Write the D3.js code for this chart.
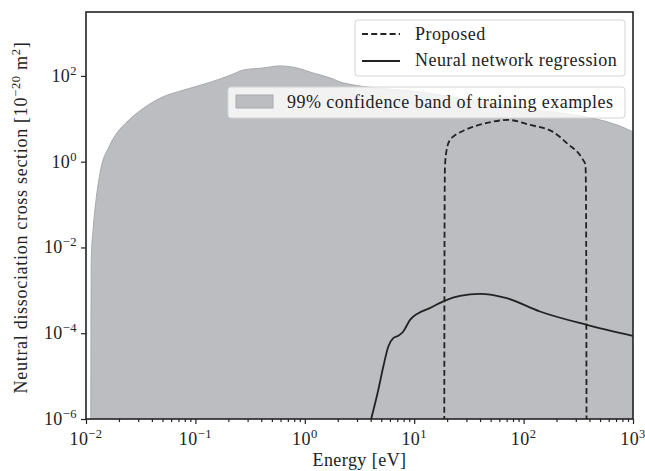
<!DOCTYPE html>
<html>
<head>
<meta charset="utf-8">
<script src="https://cdn.jsdelivr.net/npm/d3@7"></script>
<style>
  body { margin: 0; background: #fff; }
  text { font-family: "Liberation Serif", "DejaVu Serif", serif; fill: #222; }
  .lbl { font-size: 18px; letter-spacing: 0.45px; }
</style>
</head>
<body>
<div id="chart"></div>
<script>
// Data
var bandEnergy = [0.01104, 0.01111, 0.01117, 0.01166, 0.01227, 0.0136, 0.0162, 0.0192, 0.0237, 0.0318, 0.0485, 0.0787, 0.139, 0.211, 0.278, 0.415, 0.593, 0.849, 1.19, 1.70, 2.23, 11.3, 92.7, 714, 1000];
var bandUpper = [1e-7, 1.2e-4, 5.1e-3, 0.030, 0.11, 0.64, 2.2, 4.7, 8.5, 16, 31, 47, 72, 105, 138, 153, 171, 153, 117, 90, 69, 42, 18, 7.2, 4.95];

var proposedEnergy = [18.8, 18.95, 19.1, 19.8, 21.2, 22.6, 27.9, 34.5, 46.2, 71.9, 114, 186, 249, 349, 368, 372, 377];
var proposedValue = [1e-8, 0.05, 0.76, 1.88, 3.2, 3.8, 5.2, 6.5, 8.0, 9.4, 7.2, 4.95, 2.7, 1.1, 0.84, 0.13, 1e-8];

var nnEnergy = [3.95, 4.70, 5.22, 5.80, 6.44, 7.16, 7.95, 9.16, 10.9, 13.9, 19.1, 26.2, 39.9, 70.1, 141, 377, 1000];
var nnValue = [8e-7, 4.8e-6, 1.67e-5, 4.9e-5, 7.7e-5, 8.7e-5, 1.1e-4, 2.05e-4, 2.94e-4, 3.85e-4, 5.78e-4, 7.45e-4, 8.28e-4, 6.58e-4, 3.21e-4, 1.57e-4, 8.7e-5];

var xTickExp = [-2, -1, 0, 1, 2, 3];
var yTickExp = [-6, -4, -2, 0, 2];

var legendLabels = ["Proposed", "Neural network regression"];
var bandLabel = "99% confidence band of training examples";

// Size and margins
var svgWidth = 645;
var svgHeight = 471;
var margin = { top: 12, right: 12, bottom: 52, left: 86 };
var chartWidth = svgWidth - margin.left - margin.right;
var chartHeight = svgHeight - margin.top - margin.bottom;

var svg = d3.select("#chart")
    .append("svg")
    .attr("width", svgWidth)
    .attr("height", svgHeight);

var chartGroup = svg.append("g")
    .attr("transform", `translate(${margin.left}, ${margin.top})`);

// Scales
var xScale = d3.scaleLog().domain([1e-2, 1e3]).range([0, chartWidth]);
var yScale = d3.scaleLog().domain([1e-6, Math.pow(10, 3.49)]).range([chartHeight, 0]);

svg.append("defs").append("clipPath")
    .attr("id", "clip")
    .append("rect")
    .attr("width", chartWidth)
    .attr("height", chartHeight);

var plot = chartGroup.append("g").attr("clip-path", "url(#clip)");

// Confidence band
var bandData = bandEnergy.map((e, i) => ({ e: e, hi: bandUpper[i] }));
var area = d3.area()
    .x(d => xScale(d.e))
    .y0(chartHeight + 5)
    .y1(d => yScale(d.hi))
    .curve(d3.curveMonotoneX);

plot.append("path")
    .datum(bandData)
    .attr("d", area)
    .attr("fill", "#bcbdc1")
    .attr("stroke", "#a8a9ad")
    .attr("stroke-width", 1);

var line = d3.line()
    .x(d => xScale(d.e))
    .y(d => yScale(d.v))
    .curve(d3.curveMonotoneX);

// Proposed (dashed)
plot.append("path")
    .datum(proposedEnergy.map((e, i) => ({ e: e, v: proposedValue[i] })))
    .attr("d", line)
    .attr("fill", "none")
    .attr("stroke", "#222")
    .attr("stroke-width", 1.8)
    .attr("stroke-dasharray", "6,3.2");

// Neural network regression (solid)
plot.append("path")
    .datum(nnEnergy.map((e, i) => ({ e: e, v: nnValue[i] })))
    .attr("d", line)
    .attr("fill", "none")
    .attr("stroke", "#222")
    .attr("stroke-width", 1.8);

// Axes
var xMinor = [];
for (var p = -2; p < 3; p++) {
    for (var k = 2; k <= 9; k++) xMinor.push(k * Math.pow(10, p));
}

var xAxisG = chartGroup.append("g")
    .attr("transform", `translate(0, ${chartHeight})`);

xAxisG.call(d3.axisBottom(xScale).tickValues(xMinor).tickSize(3).tickFormat(""));
xAxisG.call(g => g.select(".domain").remove());

var xMajorG = chartGroup.append("g")
    .attr("transform", `translate(0, ${chartHeight})`)
    .call(d3.axisBottom(xScale)
        .tickValues(xTickExp.map(p => Math.pow(10, p)))
        .tickSize(5)
        .tickFormat(""));
xMajorG.select(".domain").remove();

var yAxisG = chartGroup.append("g")
    .call(d3.axisLeft(yScale)
        .tickValues(yTickExp.map(p => Math.pow(10, p)))
        .tickSize(5)
        .tickFormat(""));
yAxisG.select(".domain").remove();

chartGroup.selectAll(".tick line")
    .attr("stroke", "#222")
    .attr("stroke-width", 1.2);

function powerLabel(sel, exp) {
    sel.append("tspan").text("10");
    sel.append("tspan")
        .attr("dy", -7)
        .style("font-size", "12.5px")
        .text(exp < 0 ? "\u2212" + (-exp) : exp);
}

// x tick labels
xTickExp.forEach(p => {
    var t = chartGroup.append("text")
        .attr("x", xScale(Math.pow(10, p)))
        .attr("y", chartHeight + 26)
        .attr("text-anchor", "middle")
        .attr("class", "lbl");
    powerLabel(t, p);
});

// y tick labels
yTickExp.forEach(p => {
    var t = chartGroup.append("text")
        .attr("x", -9)
        .attr("y", yScale(Math.pow(10, p)) + 6)
        .attr("text-anchor", "end")
        .attr("class", "lbl");
    powerLabel(t, p);
});

// Frame
chartGroup.append("rect")
    .attr("width", chartWidth)
    .attr("height", chartHeight)
    .attr("fill", "none")
    .attr("stroke", "#222")
    .attr("stroke-width", 1.6);

// Axis titles
chartGroup.append("text")
    .attr("x", chartWidth / 2)
    .attr("y", chartHeight + 47)
    .attr("text-anchor", "middle")
    .attr("class", "lbl")
    .text("Energy [eV]");

var yTitle = chartGroup.append("text")
    .attr("transform", `translate(${-margin.left + 27}, ${chartHeight / 2 + 2}) rotate(-90)`)
    .attr("text-anchor", "middle")
    .attr("class", "lbl")
    .style("letter-spacing", "0.7px");
yTitle.append("tspan").text("Neutral dissociation cross section  [10");
yTitle.append("tspan").attr("dy", -7).style("font-size", "12.5px").text("\u221220");
yTitle.append("tspan").attr("dy", 7).text(" m");
yTitle.append("tspan").attr("dy", -7).style("font-size", "12.5px").text("2");
yTitle.append("tspan").attr("dy", 7).text("]");

// Legend for lines (top right)
var leg1 = svg.append("g");
leg1.append("rect")
    .attr("x", 355).attr("y", 20)
    .attr("width", 270).attr("height", 56)
    .attr("rx", 3)
    .attr("fill", "#fff").attr("fill-opacity", 0.85)
    .attr("stroke", "#d4d4d4");

leg1.append("line")
    .attr("x1", 362).attr("x2", 400).attr("y1", 34).attr("y2", 34)
    .attr("stroke", "#222").attr("stroke-width", 1.8)
    .attr("stroke-dasharray", "6,3.2");
leg1.append("line")
    .attr("x1", 362).attr("x2", 400).attr("y1", 61).attr("y2", 61)
    .attr("stroke", "#222").attr("stroke-width", 1.8);

leg1.selectAll("text.lab")
    .data(legendLabels)
    .join("text")
    .attr("class", "lab lbl")
    .attr("x", 415)
    .attr("y", (d, i) => 40 + i * 26)
    .text(d => d);

// Legend for band
var leg2 = svg.append("g");
leg2.append("rect")
    .attr("x", 228).attr("y", 87)
    .attr("width", 397).attr("height", 31)
    .attr("rx", 3)
    .attr("fill", "#fff").attr("fill-opacity", 0.8)
    .attr("stroke", "#d4d4d4");
leg2.append("rect")
    .attr("x", 236).attr("y", 95)
    .attr("width", 37).attr("height", 13)
    .attr("fill", "#bcbdc1")
    .attr("stroke", "#a8a9ad");
leg2.append("text")
    .attr("x", 287)
    .attr("y", 108)
    .attr("class", "lbl")
    .text(bandLabel);
</script>
</body>
</html>
